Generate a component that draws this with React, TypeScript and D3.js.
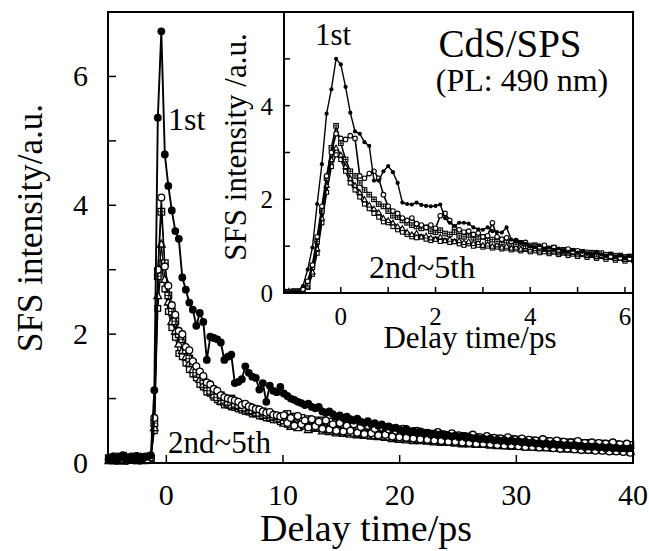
import React from "react";
import * as d3 from "d3";

// ---------- Main plot data (delay time grid: start -4.93 ps, step 0.3 ps) ----------
const MAIN_START = -4.93;
const MAIN_STEP = 0.3;

const mainFirst = [
  0.06,0.1,0.05,0.08,0.12,0.04,0.09,0.07,0.11,0.05,
  0.08,0.1,0.12,1.13,5.36,6.7,4.79,4.3,3.92,3.6,
  3.48,2.88,2.69,2.49,2.38,2.13,2.33,2.19,1.6,1.96,
  1.94,1.92,1.87,1.6,1.65,1.68,1.24,1.26,1.3,1.5,
  1.4,1.34,1.32,1.14,1.24,0.95,1.2,1.12,1.1,1.18,
  1.08,1.04,1.0,0.98,0.95,0.93,0.9,0.92,0.87,0.85,
  0.87,0.8,0.78,0.8,0.76,0.72,0.74,0.7,0.72,0.68,
  0.66,0.69,0.64,0.62,0.65,0.6,0.62,0.58,0.6,0.56,
  0.57,0.54,0.55,0.52,0.5,0.53,0.49,0.5,0.47,0.49,
  0.46,0.47,0.44,0.46,0.43,0.45,0.42,0.43,0.41,0.43,
  0.4,0.42,0.39,0.4,0.38,0.39,0.37,0.38,0.36,0.38,
  0.35,0.36,0.34,0.36,0.33,0.35,0.33,0.34,0.32,0.33,
  0.31,0.32,0.3,0.31,0.29,0.31,0.28,0.3,0.28,0.29,
  0.27,0.28,0.27,0.28,0.26,0.27,0.25,0.26,0.25,0.26,
  0.24,0.25,0.23,0.25,0.23,0.24,0.22,0.23,0.22,0.23,
];
const mainSecond = [
  0.05,0.08,0.04,0.09,0.06,0.03,0.08,0.05,0.1,0.04,
  0.07,0.05,0.09,0.7,3.0,4.12,3.05,2.75,2.45,2.3,
  2.05,2.0,1.8,1.75,1.58,1.5,1.42,1.35,1.25,1.22,
  1.15,1.12,1.05,1.02,1.0,0.98,0.97,0.95,0.9,0.92,
  0.88,0.86,0.84,0.83,0.8,0.78,0.79,0.75,0.74,0.72,
  0.74,0.62,0.7,0.58,0.73,0.6,0.66,0.55,0.68,0.57,
  0.64,0.53,0.66,0.52,0.6,0.5,0.62,0.49,0.58,0.5,
  0.6,0.47,0.56,0.45,0.58,0.46,0.53,0.43,0.55,0.44,
  0.52,0.41,0.5,0.4,0.53,0.39,0.48,0.38,0.5,0.37,
  0.47,0.36,0.45,0.35,0.48,0.34,0.44,0.33,0.46,0.33,
  0.43,0.32,0.41,0.31,0.44,0.3,0.4,0.3,0.42,0.29,
  0.39,0.28,0.38,0.27,0.4,0.27,0.37,0.26,0.38,0.25,
  0.36,0.25,0.35,0.24,0.37,0.24,0.34,0.23,0.35,0.22,
  0.33,0.22,0.32,0.21,0.34,0.2,0.31,0.2,0.32,0.19,
  0.31,0.19,0.3,0.18,0.32,0.18,0.29,0.17,0.3,0.16,
];
const mainThird = [
  0.07,0.04,0.1,0.06,0.09,0.05,0.07,0.1,0.04,0.08,
  0.06,0.1,0.07,0.62,2.9,3.9,3.1,2.6,2.35,2.2,
  2.0,1.92,1.75,1.62,1.55,1.4,1.38,1.28,1.22,1.12,
  1.12,1.02,1.05,0.98,0.95,1.0,0.92,0.9,0.91,0.86,
  0.87,0.82,0.83,0.78,0.8,0.75,0.76,0.72,0.73,0.69,
  0.66,0.76,0.6,0.72,0.63,0.7,0.58,0.68,0.56,0.66,
  0.55,0.66,0.52,0.64,0.5,0.62,0.49,0.6,0.48,0.58,
  0.47,0.57,0.46,0.56,0.44,0.55,0.43,0.54,0.42,0.52,
  0.41,0.51,0.4,0.5,0.39,0.49,0.38,0.48,0.37,0.47,
  0.36,0.46,0.35,0.45,0.35,0.44,0.34,0.43,0.33,0.42,
  0.33,0.42,0.32,0.41,0.31,0.4,0.31,0.39,0.3,0.38,
  0.3,0.38,0.29,0.37,0.28,0.37,0.28,0.36,0.27,0.35,
  0.27,0.35,0.26,0.34,0.26,0.34,0.25,0.33,0.25,0.33,
  0.24,0.32,0.24,0.32,0.23,0.31,0.23,0.31,0.22,0.3,
  0.22,0.3,0.21,0.29,0.21,0.29,0.2,0.28,0.2,0.28,
];
const mainFourth = [
  0.04,0.09,0.06,0.03,0.08,0.1,0.05,0.07,0.06,0.09,
  0.04,0.08,0.05,0.55,2.6,3.4,2.85,2.5,2.2,2.05,
  1.85,1.75,1.65,1.55,1.45,1.38,1.3,1.22,1.17,1.1,
  1.06,1.03,0.96,0.95,0.93,0.9,0.9,0.88,0.86,0.84,
  0.82,0.8,0.78,0.77,0.74,0.74,0.71,0.71,0.68,0.68,
  0.62,0.7,0.57,0.66,0.55,0.64,0.6,0.52,0.62,0.54,
  0.6,0.5,0.58,0.49,0.56,0.47,0.55,0.46,0.53,0.45,
  0.52,0.44,0.5,0.43,0.49,0.42,0.48,0.41,0.47,0.4,
  0.46,0.38,0.45,0.37,0.44,0.36,0.43,0.35,0.42,0.35,
  0.41,0.34,0.4,0.33,0.4,0.32,0.39,0.32,0.38,0.31,
  0.37,0.3,0.36,0.3,0.36,0.29,0.35,0.29,0.34,0.28,
  0.34,0.27,0.33,0.27,0.33,0.26,0.32,0.26,0.31,0.25,
  0.31,0.25,0.3,0.24,0.3,0.24,0.29,0.23,0.29,0.23,
  0.28,0.22,0.28,0.22,0.27,0.21,0.27,0.21,0.26,0.2,
  0.26,0.2,0.26,0.2,0.25,0.19,0.25,0.19,0.24,0.18,
];
const mainFifth = [
  0.08,0.05,0.07,0.1,0.04,0.06,0.09,0.04,0.08,0.05,
  0.1,0.06,0.08,0.5,2.4,3.1,2.7,2.35,2.1,1.95,
  1.7,1.65,1.55,1.45,1.38,1.32,1.22,1.18,1.1,1.08,
  1.02,0.98,0.95,0.9,0.9,0.87,0.86,0.84,0.82,0.8,
  0.79,0.76,0.76,0.73,0.72,0.7,0.69,0.67,0.67,0.64,
  0.64,0.6,0.63,0.58,0.61,0.57,0.59,0.55,0.58,0.54,
  0.56,0.52,0.55,0.51,0.54,0.5,0.53,0.49,0.52,0.48,
  0.5,0.47,0.49,0.45,0.48,0.44,0.47,0.43,0.46,0.42,
  0.44,0.41,0.43,0.4,0.42,0.39,0.41,0.38,0.4,0.37,
  0.39,0.36,0.39,0.35,0.38,0.34,0.37,0.33,0.36,0.33,
  0.35,0.32,0.34,0.31,0.34,0.3,0.33,0.29,0.32,0.29,
  0.31,0.28,0.31,0.27,0.3,0.27,0.29,0.26,0.29,0.25,
  0.28,0.25,0.27,0.24,0.27,0.24,0.26,0.23,0.26,0.22,
  0.25,0.22,0.25,0.21,0.24,0.21,0.24,0.2,0.23,0.2,
  0.23,0.19,0.22,0.19,0.22,0.18,0.21,0.18,0.21,0.17,
];

// ---------- Inset data (delay time grid: start -1.2 ps, step 0.1 ps) ----------
const INSET_START = -1.2;
const INSET_STEP = 0.1;

const insetFirst = [
  0.02,0.02,0.03,0.03,0.15,0.5,0.97,1.9,2.75,3.83,
  4.35,5.0,4.88,4.4,3.85,3.45,3.4,3.22,3.14,2.4,
  2.4,2.6,2.71,2.58,2.35,1.93,1.9,1.89,1.93,1.88,
  1.86,1.85,1.86,1.89,1.6,1.5,1.43,1.5,1.5,1.48,
  1.4,1.36,1.35,1.4,1.32,1.3,1.29,1.4,1.14,1.12,
  1.07,1.05,1.0,0.98,1.02,0.95,0.97,0.92,0.95,0.9,
  0.88,0.92,0.86,0.88,0.85,0.83,0.87,0.82,0.8,0.84,
  0.78,0.8,0.76,0.79,0.75,
];
const insetSecond = [
  0.02,0.03,0.02,0.04,0.08,0.25,0.6,1.2,1.85,2.5,
  3.0,3.4,3.3,3.28,3.36,3.3,2.5,2.45,2.55,2.6,
  2.45,2.1,1.85,1.75,1.7,1.6,1.55,1.6,1.48,1.45,
  1.4,1.45,1.38,1.65,1.7,1.55,1.4,1.35,1.3,1.32,
  1.25,1.28,1.2,1.22,1.5,1.2,1.15,1.18,1.1,1.12,
  1.05,1.08,1.02,1.0,0.98,1.02,0.95,0.97,0.92,0.9,
  0.94,0.88,0.9,0.85,0.87,0.83,0.86,0.8,0.82,0.78,
  0.8,0.75,0.77,0.73,0.75,
];
const insetThird = [
  0.03,0.02,0.04,0.03,0.06,0.2,0.55,1.1,1.75,2.45,
  3.1,3.57,3.2,2.85,2.6,2.5,2.35,2.2,2.1,2.0,
  1.9,1.85,1.75,1.65,1.62,1.55,1.5,1.45,1.42,1.38,
  1.4,1.32,1.3,1.34,1.27,1.25,1.3,1.22,1.2,1.24,
  1.18,1.15,1.2,1.12,1.14,1.1,1.08,1.12,1.05,1.04,
  1.07,1.0,0.98,1.02,0.95,0.96,0.93,0.97,0.9,0.92,
  0.88,0.9,0.86,0.88,0.84,0.86,0.82,0.85,0.8,0.82,
  0.78,0.8,0.76,0.78,0.74,
];
const insetFourth = [
  0.02,0.04,0.03,0.02,0.05,0.15,0.45,0.95,1.6,2.3,
  2.85,3.1,2.95,2.7,2.45,2.3,2.15,2.0,1.88,1.8,
  1.72,1.6,1.55,1.5,1.42,1.38,1.3,1.25,1.28,1.2,
  1.22,1.18,1.15,1.2,1.12,1.15,1.1,1.12,1.08,1.1,
  1.06,1.08,1.02,1.05,1.0,1.03,0.98,1.0,0.96,0.98,
  0.94,0.96,0.92,0.95,0.9,0.93,0.88,0.9,0.86,0.88,
  0.84,0.87,0.82,0.85,0.8,0.83,0.78,0.8,0.76,0.79,
  0.74,0.77,0.72,0.75,0.7,
];
const insetFifth = [
  0.03,0.02,0.03,0.04,0.04,0.12,0.4,0.85,1.5,2.15,
  2.7,2.95,2.85,2.6,2.35,2.2,2.05,1.9,1.8,1.7,
  1.62,1.52,1.5,1.42,1.35,1.3,1.25,1.2,1.18,1.2,
  1.15,1.12,1.15,1.1,1.12,1.08,1.1,1.05,1.02,1.05,
  1.0,1.02,0.98,1.0,0.96,0.98,0.94,0.96,0.92,0.94,
  0.9,0.93,0.88,0.9,0.86,0.88,0.84,0.87,0.82,0.85,
  0.8,0.83,0.78,0.82,0.76,0.8,0.74,0.78,0.72,0.76,
  0.7,0.74,0.68,0.72,0.66,
];

// ---------- Ticks ----------
const mainXTickLabels = [0, 10, 20, 30, 40];
const mainXTickMarks = [0, 10, 20, 30];
const mainYTickLabels = [0, 2, 4, 6];
const mainYTickMarks = [1, 2, 3, 4, 5, 6];
const insetXTickLabels = [0, 2, 4, 6];
const insetXTickMarks = [0, 1, 2, 3, 4, 5, 6];
const insetYTickLabels = [0, 2, 4];
const insetYTickMarks = [1, 2, 3, 4, 5];

const FONT = "'Liberation Serif','Times New Roman',Times,serif";

type Shape = "dot" | "circle" | "sqcross" | "tri" | "square";

function Marker({ shape, x, y, s, sw }: { shape: Shape; x: number; y: number; s: number; sw: number }) {
  if (shape === "dot") return <circle cx={x} cy={y} r={s} fill="#000" />;
  if (shape === "circle")
    return <circle cx={x} cy={y} r={s} fill="#fff" stroke="#000" strokeWidth={sw} />;
  if (shape === "square")
    return <rect x={x - s} y={y - s} width={2 * s} height={2 * s} fill="#fff" stroke="#000" strokeWidth={sw} />;
  if (shape === "sqcross")
    return (
      <g>
        <rect x={x - s} y={y - s} width={2 * s} height={2 * s} fill="#fff" stroke="#000" strokeWidth={sw} />
        <line x1={x - s} x2={x + s} y1={y} y2={y} stroke="#000" strokeWidth={0.9} />
        <line x1={x} x2={x} y1={y - s} y2={y + s} stroke="#000" strokeWidth={0.9} />
      </g>
    );
  const h = s * 1.1;
  return (
    <path
      d={`M${x},${y - h}L${x + h},${y + h * 0.8}L${x - h},${y + h * 0.8}Z`}
      fill="#fff"
      stroke="#000"
      strokeWidth={sw}
    />
  );
}

function Series({
  values,
  start,
  step,
  sx,
  sy,
  shape,
  size,
  lw,
  sw,
}: {
  values: number[];
  start: number;
  step: number;
  sx: d3.ScaleLinear<number, number>;
  sy: d3.ScaleLinear<number, number>;
  shape: Shape;
  size: number;
  lw: number;
  sw: number;
}) {
  const pts: [number, number][] = values.map((v, i) => [start + step * i, v]);
  const line = d3
    .line<[number, number]>()
    .x((d) => sx(d[0]))
    .y((d) => sy(d[1]));
  return (
    <g>
      <path d={line(pts) || ""} fill="none" stroke="#000" strokeWidth={lw} />
      {pts.map((d, i) => (
        <Marker key={i} shape={shape} x={sx(d[0])} y={sy(d[1])} s={size} sw={sw} />
      ))}
    </g>
  );
}

export default function App() {
  const W = 649;
  const H = 551;
  const mx = d3.scaleLinear().domain([-5, 40]).range([108, 633]);
  const my = d3.scaleLinear().domain([0, 7]).range([463, 12]);
  const ix = d3.scaleLinear().domain([-1.2, 6.17]).range([284, 633]);
  const iy = d3.scaleLinear().domain([0, 6]).range([293, 12]);

  const mainBand: { v: number[]; shape: Shape; s: number }[] = [
    { v: mainFifth, shape: "square", s: 2.8 },
    { v: mainFourth, shape: "tri", s: 3.5 },
    { v: mainThird, shape: "sqcross", s: 3.3 },
    { v: mainSecond, shape: "circle", s: 3.4 },
  ];
  const insetBand: { v: number[]; shape: Shape; s: number }[] = [
    { v: insetFifth, shape: "square", s: 2 },
    { v: insetFourth, shape: "tri", s: 2.4 },
    { v: insetThird, shape: "sqcross", s: 2.3 },
    { v: insetSecond, shape: "circle", s: 2.3 },
  ];

  const [mL, mR] = mx.range();
  const [mB, mT] = my.range();
  const [iL, iR] = ix.range();
  const [iB, iT] = iy.range();

  return (
    <svg
      width={W}
      height={H}
      style={{ position: "absolute", left: 0, top: 0, background: "#fff" }}
      fontFamily={FONT}
    >
      <rect x={0} y={0} width={W} height={H} fill="#fff" />
      <defs>
        <clipPath id="insetClip">
          <rect x={iL} y={iT} width={iR - iL} height={iB - iT} />
        </clipPath>
      </defs>

      {/* main series */}
      {mainBand.map((b, k) => (
        <Series key={k} values={b.v} start={MAIN_START} step={MAIN_STEP} sx={mx} sy={my} shape={b.shape} size={b.s} lw={1.3} sw={1.3} />
      ))}
      <Series values={mainFirst} start={MAIN_START} step={MAIN_STEP} sx={mx} sy={my} shape="dot" size={3.9} lw={1.9} sw={1} />

      {/* main frame */}
      <rect x={mL} y={mT} width={mR - mL} height={mB - mT} fill="none" stroke="#000" strokeWidth={2} />
      {mainXTickMarks.map((t) => (
        <line key={t} x1={mx(t)} x2={mx(t)} y1={mB} y2={mB - 8} stroke="#000" strokeWidth={1.5} />
      ))}
      {mainYTickMarks.map((t) => (
        <line key={t} x1={mL} x2={mL + 8} y1={my(t)} y2={my(t)} stroke="#000" strokeWidth={1.5} />
      ))}
      {mainXTickLabels.map((t) => (
        <text key={t} x={mx(t)} y={505} fontSize={30} textAnchor="middle">
          {t}
        </text>
      ))}
      {mainYTickLabels.map((t) => (
        <text key={t} x={88} y={my(t) + 10} fontSize={30} textAnchor="end">
          {t}
        </text>
      ))}
      <text x={366} y={541} fontSize={38} textAnchor="middle">
        Delay time/ps
      </text>
      <text transform="translate(42,228) rotate(-90)" fontSize={35} textAnchor="middle">
        SFS intensity/a.u.
      </text>
      <text x={168} y={130} fontSize={32}>
        1st
      </text>
      <text x={168} y={453} fontSize={31}>
        2nd~5th
      </text>

      {/* inset */}
      <rect x={iL} y={iT} width={iR - iL} height={iB - iT} fill="#fff" />
      <g clipPath="url(#insetClip)">
        {insetBand.map((b, k) => (
          <Series key={k} values={b.v} start={INSET_START} step={INSET_STEP} sx={ix} sy={iy} shape={b.shape} size={b.s} lw={1.6} sw={1.1} />
        ))}
        <Series values={insetFirst} start={INSET_START} step={INSET_STEP} sx={ix} sy={iy} shape="dot" size={2.1} lw={1.4} sw={1} />
      </g>
      <rect x={iL} y={iT} width={iR - iL} height={iB - iT} fill="none" stroke="#000" strokeWidth={2} />
      {insetXTickMarks.map((t) => (
        <line key={t} x1={ix(t)} x2={ix(t)} y1={iB} y2={iB - 6} stroke="#000" strokeWidth={1.5} />
      ))}
      {insetYTickMarks.map((t) => (
        <line key={t} x1={iL} x2={iL + 6} y1={iy(t)} y2={iy(t)} stroke="#000" strokeWidth={1.5} />
      ))}
      {insetXTickLabels.map((t) => (
        <text key={t} x={ix(t)} y={325} fontSize={25} textAnchor="middle">
          {t}
        </text>
      ))}
      {insetYTickLabels.map((t) => (
        <text key={t} x={273} y={iy(t) + 9} fontSize={25} textAnchor="end">
          {t}
        </text>
      ))}
      <text x={470} y={348} fontSize={31} textAnchor="middle">
        Delay time/ps
      </text>
      <text transform="translate(246,147) rotate(-90)" fontSize={31} textAnchor="middle">
        SFS intensity /a.u.
      </text>
      <text x={315} y={45} fontSize={31}>
        1st
      </text>
      <text x={510} y={57} fontSize={39} textAnchor="middle">
        CdS/SPS
      </text>
      <text x={522} y={91} fontSize={32} textAnchor="middle">
        (PL: 490 nm)
      </text>
      <text x={369} y={278} fontSize={32}>
        2nd~5th
      </text>
    </svg>
  );
}
